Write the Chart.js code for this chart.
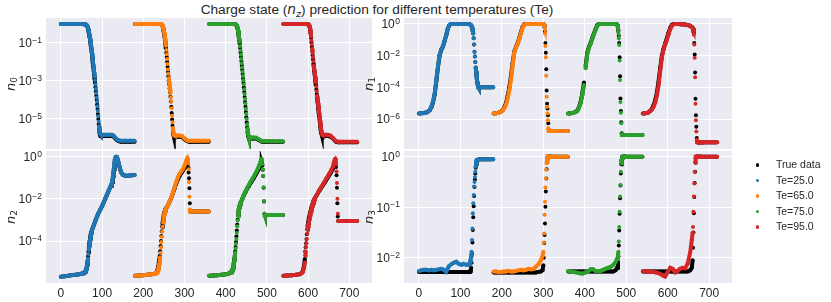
<!DOCTYPE html>
<html>
<head>
<meta charset="utf-8">
<script src="https://cdn.jsdelivr.net/npm/chart.js@4.4.1/dist/chart.umd.min.js"></script>
<style>
  body { margin: 0; background: #fff; }
  #fig { position: relative; width: 831px; height: 302px; overflow: hidden; font-family: "Liberation Sans", Arial, sans-serif; color: #262626; }
  canvas { position: absolute; }
  #c0 { left: 0; top: 0; }
  #c1 { left: 358px; top: 0; }
  #c2 { left: 0; top: 140px; }
  #c3 { left: 358px; top: 140px; }
  #title { position: absolute; left: 0; width: 754px; top: 3px; text-align: center; font-size: 13.7px; line-height: 1; white-space: nowrap; }
  .math { font-family: "DejaVu Sans"; font-style: italic; }
  .sub { font-family: "DejaVu Sans"; font-style: italic; font-size: 9.5px; position: relative; top: 2.5px; }
  #legend { position: absolute; left: 755px; top: 157px; font-size: 10.5px; line-height: 15.5px; white-space: nowrap; }
  .dot { display: inline-block; width: 3.5px; height: 3.5px; border-radius: 50%; margin-left: 0.5px; margin-right: 17px; vertical-align: middle; }
</style>
</head>
<body>
<div id="fig">
  <div id="title">Charge state (<span class="math">n</span><span class="sub">z</span>) prediction for different temperatures (Te)</div>
  <canvas id="c0" width="380" height="151"></canvas>
  <canvas id="c1" width="382" height="151"></canvas>
  <canvas id="c2" width="380" height="162"></canvas>
  <canvas id="c3" width="382" height="162"></canvas>
  <div id="legend"></div>
</div>
<script>
// series labels and colours
const temps = ['Te=25.0', 'Te=65.0', 'Te=75.0', 'Te=95.0'];
const colors = ['#1f77b4', '#ff7f0e', '#2ca02c', '#d62728'];
const trueLabel = 'True data';
// every temperature covers 180 samples, one after the other
const segStart = [0, 180, 360, 540];
const xTicks = [0, 100, 200, 300, 400, 500, 600, 700];

// all values are log10(n)

// ---- n0 ----
const n0Off = [0,10,20,30,40,50,56,58,60,
  62,63,64,65,66,67,68,69,70,71,72,73,74,75,76,77,78,79,80,81,82,83,84,85,86,87,88,89,90,91,92,93,94,95,96,97,98,
  102,108,114,120,124,128,132,136,140,146,156,168,179];
const n0Pred25 = [0,0,0,0,0,0,-0.01,-0.01,-0.02,
  -0.04,-0.06,-0.1,-0.15,-0.22,-0.3,-0.4,-0.5,-0.62,-0.74,
  -0.88,-1.03,-1.2,-1.38,-1.56,-1.75,-1.95,-2.15,-2.35,-2.55,
  -2.76,-2.98,-3.2,-3.42,-3.65,-3.88,-4.1,-4.35,-4.6,-4.88,
  -5.15,-5.4,-5.6,-5.74,-5.82,-5.85,-5.86,
  -5.86,-5.86,-5.86,-5.86,-5.86,-5.9,-6.0,-6.1,-6.15,-6.18,-6.18,-6.18,-6.18];
const n0True25 = [0,0,0,0,0,0,-0.01,-0.01,-0.02,
  -0.05,-0.07,-0.11,-0.17,-0.25,-0.34,-0.45,-0.57,-0.7,-0.84,
  -0.99,-1.15,-1.32,-1.5,-1.69,-1.89,-2.09,-2.3,-2.5,-2.7,
  -2.91,-3.12,-3.34,-3.56,-3.79,-4.02,-4.26,-4.5,-4.76,-5.03,
  -5.3,-5.54,-5.74,-5.85,-5.9,-5.92,-5.92,
  -5.92,-5.92,-5.92,-5.92,-5.92,-5.95,-6.05,-6.14,-6.19,-6.22,-6.22,-6.22,-6.22];
const n0Pred65 = [0,0,0,0,0,0,0,0,0,
  -0.01,-0.01,-0.02,-0.03,-0.05,-0.09,-0.15,-0.23,-0.33,-0.45,
  -0.6,-0.77,-0.95,-1.15,-1.37,-1.6,-1.85,-2.12,-2.4,-2.63,
  -2.85,-3.05,-3.25,-3.45,-3.65,-3.87,-4.1,-4.45,-4.85,-5.2,
  -5.5,-5.7,-5.82,-5.88,-5.9,-5.9,-5.9,
  -5.9,-5.9,-5.92,-6.05,-6.12,-6.17,-6.18,-6.18,-6.18,-6.18,-6.18,-6.18,-6.18];
const n0True65 = [0,0,0,0,0,0,0,0,0,
  -0.01,-0.02,-0.03,-0.04,-0.07,-0.12,-0.19,-0.28,-0.4,-0.54,
  -0.7,-0.88,-1.07,-1.28,-1.5,-1.75,-2.0,-2.26,-2.52,-2.76,
  -2.98,-3.18,-3.4,-3.62,-3.85,-4.1,-4.38,-4.7,-5.05,-5.38,
  -5.64,-5.82,-5.92,-5.95,-5.96,-5.96,-5.96,
  -5.96,-5.96,-5.98,-6.1,-6.16,-6.2,-6.22,-6.22,-6.22,-6.22,-6.22,-6.22,-6.22];
const n0Pred75 = [0,0,0,0,0,0,0,0,0,
  0,-0.01,-0.02,-0.03,-0.05,-0.08,-0.12,-0.2,-0.3,-0.44,
  -0.6,-0.77,-0.95,-1.17,-1.4,-1.62,-1.85,-2.08,-2.3,-2.52,
  -2.75,-2.97,-3.2,-3.45,-3.7,-3.95,-4.2,-4.48,-4.75,-5.02,
  -5.3,-5.52,-5.7,-5.85,-5.95,-5.99,-6.0,
  -6.0,-6.0,-6.01,-6.1,-6.15,-6.2,-6.2,-6.2,-6.2,-6.2,-6.2,-6.2,-6.2];
const n0True75 = [0,0,0,0,0,0,0,0,0,
  0,-0.01,-0.02,-0.04,-0.06,-0.1,-0.16,-0.25,-0.36,-0.5,
  -0.67,-0.85,-1.05,-1.27,-1.5,-1.73,-1.96,-2.19,-2.42,-2.65,
  -2.88,-3.11,-3.35,-3.6,-3.86,-4.12,-4.38,-4.65,-4.93,-5.2,
  -5.46,-5.68,-5.85,-5.95,-6.02,-6.05,-6.05,
  -6.05,-6.05,-6.06,-6.13,-6.18,-6.23,-6.23,-6.23,-6.23,-6.23,-6.23,-6.23,-6.23];
const n0Pred95 = [0,0,0,0,0,0,0,-0.01,-0.02,
  -0.04,-0.07,-0.13,-0.25,-0.45,-0.66,-0.88,-1.1,-1.32,-1.53,
  -1.75,-1.97,-2.19,-2.4,-2.58,-2.75,-2.92,-3.08,-3.3,-3.55,
  -3.8,-4.0,-4.17,-4.34,-4.52,-4.7,-4.9,-5.1,-5.3,-5.47,
  -5.62,-5.74,-5.83,-5.86,-5.86,-5.86,-5.86,
  -5.86,-5.86,-5.9,-6.02,-6.12,-6.19,-6.22,-6.22,-6.22,-6.22,-6.22,-6.22,-6.22];
const n0True95 = [0,0,0,0,0,0,0,-0.01,-0.02,
  -0.05,-0.09,-0.17,-0.31,-0.52,-0.74,-0.97,-1.2,-1.43,-1.65,
  -1.87,-2.09,-2.3,-2.5,-2.68,-2.86,-3.04,-3.24,-3.46,-3.7,
  -3.93,-4.13,-4.31,-4.5,-4.69,-4.88,-5.08,-5.28,-5.47,-5.63,
  -5.76,-5.85,-5.9,-5.92,-5.92,-5.92,-5.92,
  -5.92,-5.92,-5.95,-6.05,-6.15,-6.22,-6.25,-6.25,-6.25,-6.25,-6.25,-6.25,-6.25];

// ---- n1 ----
const n1Off = [0,6,12,18,22,26,30,34,38,42,46,50,54,58,62,66,70,74,78,84,92,100,108,114,118,
  120,121,122,123,124,125,126,127,128,129,130,131,132,133,134,135,136,137,138,139,140,141,142,143,144,145,146,
  150,160,170,179];
const n1Pred25 = [-5.65,-5.64,-5.62,-5.58,-5.52,-5.42,-5.22,-4.9,-4.4,-3.5,-2.65,-1.95,-1.62,-1.41,-1.05,-0.68,-0.25,-0.05,0,0,0,0,0,0,0,
  0,-0.01,-0.02,-0.03,-0.05,-0.07,-0.1,-0.15,-0.22,-0.3,
  -0.42,-0.6,-0.9,-1.3,-1.75,-2.05,-2.4,-2.75,-3.0,-3.2,
  -3.45,-3.7,-3.85,-3.95,-4.0,-4.0,-4.0,
  -4.0,-4.0,-4.0,-4.0];
const n1True25 = [-5.65,-5.64,-5.62,-5.58,-5.53,-5.44,-5.25,-4.95,-4.45,-3.6,-2.7,-1.98,-1.63,-1.42,-1.07,-0.7,-0.27,-0.06,0,0,0,0,0,0,0,
  0,-0.01,-0.02,-0.03,-0.05,-0.07,-0.1,-0.15,-0.22,-0.3,
  -0.42,-0.6,-0.9,-1.3,-1.75,-2.05,-2.4,-2.75,-3.0,-3.2,
  -3.45,-3.7,-3.85,-3.95,-4.0,-4.0,-4.0,
  -4.0,-4.0,-4.0,-4.0];
const n1Pred65 = [-5.65,-5.63,-5.6,-5.54,-5.45,-5.3,-5.1,-4.7,-4.2,-3.5,-2.6,-1.8,-1.5,-1.28,-0.95,-0.58,-0.25,-0.05,0,0,0,0,0,0,0,
  -0.01,-0.02,-0.05,-0.15,-0.6,-1.4,-2.1,-3.27,-4.6,-5.24,
  -5.65,-6.07,-6.58,-6.75,-6.75,-6.75,-6.75,-6.75,-6.75,-6.75,
  -6.75,-6.75,-6.75,-6.75,-6.75,-6.75,-6.75,
  -6.75,-6.75,-6.75,-6.75];
const n1True65 = [-5.65,-5.63,-5.6,-5.53,-5.43,-5.25,-5.0,-4.55,-4.0,-3.3,-2.45,-1.75,-1.45,-1.22,-0.9,-0.52,-0.2,-0.03,0,0,0,0,0,0,0,
  -0.01,-0.02,-0.05,-0.2,-0.48,-1.2,-1.82,-2.86,-4.2,-5.03,
  -5.34,-5.76,-6.27,-6.68,-6.75,-6.75,-6.75,-6.75,-6.75,-6.75,
  -6.75,-6.75,-6.75,-6.75,-6.75,-6.75,-6.75,
  -6.75,-6.75,-6.75,-6.75];
const n1Pred75 = [-5.65,-5.64,-5.61,-5.55,-5.48,-5.3,-4.98,-4.5,-3.85,-2.8,-1.9,-1.5,-1.25,-0.95,-0.65,-0.38,-0.12,-0.02,0,0,0,0,0,-0.01,-0.05,
  -0.25,-0.55,-0.9,-1.33,-2.3,-3.54,-4.93,-5.6,-6.27,-6.95,
  -7.0,-7.0,-7.0,-7.0,-7.0,-7.0,-7.0,-7.0,-7.0,-7.0,
  -7.0,-7.0,-7.0,-7.0,-7.0,-7.0,-7.0,
  -7.0,-7.0,-7.0,-7.0];
const n1True75 = [-5.65,-5.64,-5.61,-5.54,-5.46,-5.26,-4.92,-4.4,-3.7,-2.65,-1.82,-1.45,-1.2,-0.9,-0.6,-0.33,-0.09,-0.01,0,0,0,0,0,-0.01,-0.04,
  -0.2,-0.45,-0.75,-1.2,-2.1,-3.3,-4.7,-5.5,-6.2,-6.9,
  -7.0,-7.0,-7.0,-7.0,-7.0,-7.0,-7.0,-7.0,-7.0,-7.0,
  -7.0,-7.0,-7.0,-7.0,-7.0,-7.0,-7.0,
  -7.0,-7.0,-7.0,-7.0];
const n1Pred95 = [-5.65,-5.64,-5.6,-5.5,-5.4,-5.22,-4.95,-4.5,-3.85,-2.95,-2.1,-1.6,-1.3,-1.0,-0.65,-0.35,-0.12,-0.03,0,0,-0.02,-0.04,-0.07,-0.12,-0.2,
  -0.26,-0.3,-0.37,-0.68,-1.3,-2.13,-3.37,-5.03,-6.07,-6.79,
  -7.31,-7.47,-7.47,-7.47,-7.47,-7.47,-7.47,-7.47,-7.47,-7.47,
  -7.47,-7.47,-7.47,-7.47,-7.47,-7.47,-7.47,
  -7.47,-7.47,-7.47,-7.47];
const n1True95 = [-5.65,-5.64,-5.6,-5.48,-5.35,-5.12,-4.8,-4.3,-3.6,-2.75,-2.0,-1.55,-1.22,-0.9,-0.55,-0.25,-0.06,0,0,0,-0.02,-0.04,-0.07,-0.12,-0.2,
  -0.25,-0.28,-0.33,-0.58,-1.2,-1.93,-3.06,-4.72,-5.76,-6.48,
  -7.2,-7.47,-7.47,-7.47,-7.47,-7.47,-7.47,-7.47,-7.47,-7.47,
  -7.47,-7.47,-7.47,-7.47,-7.47,-7.47,-7.47,
  -7.47,-7.47,-7.47,-7.47];

// ---- n2 ----
const n2Off = [0,10,20,30,40,46,50,
  52,53,54,55,56,57,58,59,60,61,62,63,64,65,66,67,68,69,70,71,72,73,74,75,76,
  80,84,88,92,96,100,104,108,112,116,120,122,
  124,125,126,127,128,129,130,131,132,133,134,135,136,
  138,142,146,150,156,164,172,179];
const n2Pred25 = [-5.69,-5.67,-5.64,-5.61,-5.59,-5.57,-5.55,
  -5.54,-5.53,-5.52,-5.51,-5.5,-5.48,-5.47,-5.45,-5.42,-5.38,
  -5.32,-5.24,-5.15,-5.0,-4.82,-4.62,-4.42,-4.24,-4.08,-3.93,
  -3.8,-3.7,-3.62,-3.54,-3.47,
  -3.25,-3.03,-2.82,-2.65,-2.5,-2.35,-2.17,-1.98,-1.8,-1.6,-1.42,-1.33,
  -1.22,-1.1,-0.95,-0.8,-0.62,-0.45,-0.3,-0.15,-0.07,-0.03,-0.01,0,-0.02,
  -0.12,-0.45,-0.73,-0.85,-0.9,-0.9,-0.88,-0.87];
const n2True25 = [-5.69,-5.67,-5.64,-5.61,-5.59,-5.57,-5.55,
  -5.54,-5.53,-5.52,-5.51,-5.5,-5.48,-5.47,-5.45,-5.42,-5.38,
  -5.31,-5.22,-5.1,-4.92,-4.72,-4.52,-4.33,-4.16,-4.01,-3.88,
  -3.76,-3.66,-3.58,-3.51,-3.45,
  -3.25,-3.03,-2.82,-2.65,-2.5,-2.35,-2.17,-1.98,-1.8,-1.62,-1.45,-1.37,
  -1.28,-1.2,-1.08,-0.93,-0.76,-0.58,-0.4,-0.24,-0.12,-0.05,-0.02,0,-0.02,
  -0.12,-0.45,-0.73,-0.85,-0.9,-0.9,-0.88,-0.87];
const n2Pred65 = [-5.65,-5.63,-5.62,-5.6,-5.58,-5.56,-5.54,
  -5.52,-5.5,-5.45,-5.4,-5.35,-5.27,-5.18,-5.08,-4.95,-4.77,
  -4.55,-4.3,-4.05,-3.8,-3.55,-3.32,-3.12,-2.97,-2.85,-2.74,
  -2.65,-2.58,-2.52,-2.48,-2.45,
  -2.3,-2.12,-1.93,-1.7,-1.45,-1.2,-0.98,-0.82,-0.7,-0.6,-0.43,-0.33,
  -0.22,-0.16,-0.1,-0.06,-0.1,-0.3,-0.6,-1.2,-1.9,-2.5,-2.6,-2.6,-2.6,
  -2.6,-2.6,-2.6,-2.6,-2.6,-2.6,-2.6,-2.6];
const n2True65 = [-5.65,-5.63,-5.62,-5.6,-5.58,-5.56,-5.54,
  -5.5,-5.46,-5.4,-5.33,-5.25,-5.15,-5.03,-4.88,-4.7,-4.48,
  -4.24,-4.0,-3.76,-3.53,-3.32,-3.13,-2.98,-2.86,-2.76,-2.67,
  -2.6,-2.54,-2.5,-2.46,-2.43,
  -2.3,-2.13,-1.95,-1.73,-1.5,-1.27,-1.07,-0.92,-0.78,-0.67,-0.55,-0.48,
  -0.4,-0.35,-0.3,-0.28,-0.32,-0.5,-0.75,-1.02,-1.5,-2.21,-2.6,-2.6,-2.6,
  -2.6,-2.6,-2.6,-2.6,-2.6,-2.6,-2.6,-2.6];
const n2Pred75 = [-5.65,-5.63,-5.62,-5.6,-5.58,-5.55,-5.52,
  -5.5,-5.48,-5.45,-5.42,-5.38,-5.32,-5.25,-5.16,-5.05,-4.92,
  -4.75,-4.56,-4.35,-4.13,-3.9,-3.62,-3.3,-3.02,-2.8,-2.63,
  -2.5,-2.39,-2.3,-2.23,-2.18,
  -2.0,-1.8,-1.65,-1.48,-1.35,-1.2,-1.07,-0.95,-0.8,-0.65,-0.48,-0.39,
  -0.28,-0.2,-0.15,-0.1,-0.15,-0.35,-0.6,-0.9,-1.45,-2.1,-2.7,-2.76,-2.76,
  -2.76,-2.76,-2.76,-2.76,-2.76,-2.76,-2.76,-2.76];
const n2True75 = [-5.65,-5.63,-5.62,-5.6,-5.58,-5.55,-5.52,
  -5.5,-5.48,-5.45,-5.42,-5.38,-5.32,-5.25,-5.16,-5.05,-4.88,
  -4.7,-4.5,-4.28,-4.04,-3.78,-3.5,-3.22,-2.98,-2.78,-2.62,
  -2.5,-2.4,-2.32,-2.25,-2.2,
  -2.02,-1.83,-1.68,-1.52,-1.4,-1.26,-1.14,-1.02,-0.88,-0.74,-0.6,-0.54,
  -0.46,-0.42,-0.38,-0.35,-0.3,-0.4,-0.62,-0.92,-1.47,-2.12,-2.7,-2.76,-2.76,
  -2.76,-2.76,-2.76,-2.76,-2.76,-2.76,-2.76,-2.76];
const n2Pred95 = [-5.65,-5.64,-5.62,-5.6,-5.57,-5.5,-5.3,
  -5.02,-4.68,-4.5,-4.3,-4.1,-3.9,-3.65,-3.45,-3.3,-3.17,
  -3.05,-2.95,-2.85,-2.75,-2.65,-2.56,-2.48,-2.4,-2.33,-2.26,
  -2.2,-2.14,-2.08,-2.03,-1.98,
  -1.84,-1.7,-1.56,-1.43,-1.31,-1.18,-1.04,-0.92,-0.78,-0.64,-0.48,-0.32,
  -0.18,-0.12,-0.1,-0.14,-0.35,-0.7,-1.25,-2.0,-2.7,-3.05,-3.05,-3.05,-3.05,
  -3.05,-3.05,-3.05,-3.05,-3.05,-3.05,-3.05,-3.05];
const n2True95 = [-5.65,-5.64,-5.62,-5.6,-5.57,-5.48,-5.2,
  -4.85,-4.5,-4.3,-4.1,-3.9,-3.68,-3.45,-3.28,-3.14,-3.03,
  -2.93,-2.84,-2.75,-2.66,-2.58,-2.5,-2.43,-2.36,-2.3,-2.24,
  -2.18,-2.12,-2.07,-2.02,-1.98,
  -1.85,-1.72,-1.59,-1.47,-1.35,-1.23,-1.1,-0.98,-0.85,-0.72,-0.58,-0.48,
  -0.38,-0.33,-0.3,-0.32,-0.49,-0.88,-1.47,-2.21,-2.84,-3.05,-3.05,-3.05,-3.05,
  -3.05,-3.05,-3.05,-3.05,-3.05,-3.05,-3.05,-3.05];

// ---- n3 ----
const n3Off = [0,6,12,18,24,30,36,42,48,54,60,66,72,78,84,90,96,102,108,114,118,120,
  121,122,123,124,125,126,127,128,129,130,131,132,133,134,135,136,137,138,139,140,
  144,150,160,170,179];
const n3Pred25 = [-2.26,-2.25,-2.24,-2.24,-2.25,-2.24,-2.25,-2.24,-2.23,-2.22,-2.24,-2.28,-2.17,-2.13,-2.1,-2.08,-2.12,-2.14,-2.12,-2.14,-2.14,-2.14,
  -2.13,-2.12,-2.1,-2.06,-2.02,-1.96,-1.88,-1.65,-1.42,-1.12,
  -0.92,-0.76,-0.59,-0.5,-0.4,-0.3,-0.2,-0.13,-0.09,-0.07,
  -0.055,-0.052,-0.052,-0.052,-0.052];
const n3True25 = [-2.28,-2.28,-2.28,-2.28,-2.28,-2.28,-2.28,-2.28,-2.28,-2.28,-2.28,-2.28,-2.28,-2.28,-2.28,-2.28,-2.28,-2.28,-2.28,-2.28,-2.28,-2.28,
  -2.28,-2.28,-2.27,-2.26,-2.24,-2.2,-2.1,-1.92,-1.7,-1.45,
  -1.2,-0.98,-0.78,-0.6,-0.45,-0.33,-0.22,-0.14,-0.09,-0.07,
  -0.055,-0.052,-0.052,-0.052,-0.052];
const n3Pred65 = [-2.27,-2.27,-2.28,-2.28,-2.27,-2.27,-2.26,-2.27,-2.27,-2.26,-2.25,-2.24,-2.25,-2.24,-2.22,-2.23,-2.22,-2.18,-2.13,-2.05,-1.97,-1.88,
  -1.7,-1.52,-1.15,-0.89,-0.61,-0.43,-0.26,-0.13,-0.06,-0.02,
  0,0,0,0,0,0,0,0,0,0,
  0,0,0,0,0];
const n3True65 = [-2.29,-2.29,-2.29,-2.29,-2.29,-2.29,-2.29,-2.29,-2.29,-2.29,-2.29,-2.29,-2.29,-2.29,-2.29,-2.29,-2.29,-2.29,-2.28,-2.27,-2.25,-2.15,
  -2.0,-1.71,-1.55,-1.32,-0.99,-0.69,-0.43,-0.25,-0.11,-0.02,
  0,0,0,0,0,0,0,0,0,0,
  0,0,0,0,0];
const n3Pred75 = [-2.26,-2.27,-2.28,-2.29,-2.3,-2.31,-2.31,-2.29,-2.27,-2.23,-2.23,-2.26,-2.26,-2.26,-2.24,-2.22,-2.2,-2.18,-2.15,-2.09,-2.02,-1.95,
  -1.88,-1.68,-1.39,-1.09,-0.79,-0.56,-0.3,-0.13,-0.06,-0.03,
  0,0,0,0,0,0,0,0,0,0,
  0,0,0,0,0];
const n3True75 = [-2.27,-2.27,-2.27,-2.27,-2.27,-2.27,-2.27,-2.27,-2.27,-2.27,-2.27,-2.27,-2.27,-2.27,-2.27,-2.27,-2.27,-2.27,-2.27,-2.25,-2.2,-2.08,
  -1.97,-1.76,-1.46,-1.13,-0.82,-0.57,-0.33,-0.15,-0.07,-0.02,
  0,0,0,0,0,0,0,0,0,0,
  0,0,0,0,0];
const n3Pred95 = [-2.26,-2.27,-2.27,-2.27,-2.28,-2.29,-2.3,-2.32,-2.35,-2.37,-2.28,-2.2,-2.22,-2.29,-2.26,-2.22,-2.2,-2.21,-2.12,-1.9,-1.65,-1.5,
  -1.39,-1.09,-0.79,-0.53,-0.3,-0.11,-0.03,0,0,0,
  0,0,0,0,0,0,0,0,0,0,
  0,0,0,0,0];
const n3True95 = [-2.27,-2.27,-2.27,-2.27,-2.27,-2.27,-2.27,-2.27,-2.27,-2.27,-2.27,-2.27,-2.27,-2.27,-2.27,-2.27,-2.27,-2.27,-2.27,-2.25,-2.2,-2.05,
  -1.8,-1.5,-1.12,-0.8,-0.52,-0.3,-0.12,-0.02,0,0,
  0,0,0,0,0,0,0,0,0,0,
  0,0,0,0,0];

const FONT = '"Liberation Sans", Arial, sans-serif';
const TEXT = '#262626';

// steep steps show as separate dots, flat parts as a thick run of dots
function hideSteep(ctx) {
  const dx = Math.abs(ctx.p1.x - ctx.p0.x);
  const dy = Math.abs(ctx.p1.y - ctx.p0.y);
  return dy > 10 * dx ? 'rgba(0,0,0,0)' : undefined;
}

function series(off, vals, i, color) {
  return {
    data: off.map((o, k) => ({ x: segStart[i] + o, y: Math.pow(10, vals[k]) })),
    borderColor: color,
    backgroundColor: color,
    borderWidth: 4,
    pointRadius: 2,
    pointBorderWidth: 0,
    pointHoverRadius: 0,
    pointHitRadius: 0,
    tension: 0,
    segment: { borderColor: hideSteep }
  };
}

// grey panel, "10^k" tick labels and the rotated n_k axis label
const panelPlugin = {
  id: 'panel',
  beforeDraw(chart) {
    const a = chart.chartArea, ctx = chart.ctx;
    ctx.save();
    ctx.fillStyle = '#eaeaf2';
    ctx.fillRect(a.left, a.top, a.right - a.left, a.bottom - a.top);
    ctx.restore();
  },
  afterDraw(chart, args, opts) {
    const ctx = chart.ctx, a = chart.chartArea, ys = chart.scales.y;
    ctx.save();
    ctx.fillStyle = TEXT;
    ctx.textBaseline = 'alphabetic';
    ys.ticks.forEach(t => {
      const py = ys.getPixelForValue(t.value);
      const e = Math.round(Math.log10(t.value));
      const sup = e < 0 ? '\u2212' + (-e) : String(e);
      const right = a.left - 4;
      ctx.font = '8.5px ' + FONT;
      const ws = ctx.measureText(sup).width;
      ctx.textAlign = 'left';
      ctx.fillText(sup, right - ws, py);
      ctx.font = '12px ' + FONT;
      ctx.textAlign = 'right';
      ctx.fillText('10', right - ws - 0.5, py + 4.3);
    });
    ctx.translate(opts.lx, opts.ly);
    ctx.rotate(-Math.PI / 2);
    ctx.font = 'italic 13px "DejaVu Sans"';
    const wn = ctx.measureText('n').width;
    ctx.font = '9px "DejaVu Sans"';
    const wsub = ctx.measureText(opts.sub).width;
    const x0 = -(wn + wsub) / 2;
    ctx.textAlign = 'left';
    ctx.font = 'italic 13px "DejaVu Sans"';
    ctx.fillText('n', x0, 0);
    ctx.font = '9px "DejaVu Sans"';
    ctx.fillText(opts.sub, x0 + wn, 2);
    ctx.restore();
  }
};

const panels = [
  { id: 'c0', sub: '0', lx: 15, ly: 84, off: n0Off, bottom: false, padTop: 18,
    pred: [n0Pred25, n0Pred65, n0Pred75, n0Pred95], truth: [n0True25, n0True65, n0True75, n0True95],
    yTicks: [-1, -3, -5], yMin: -6.61, yMax: 0.318 },
  { id: 'c1', sub: '1', lx: 14.5, ly: 84, off: n1Off, bottom: false, padTop: 18,
    pred: [n1Pred25, n1Pred65, n1Pred75, n1Pred95], truth: [n1True25, n1True65, n1True75, n1True95],
    yTicks: [0, -2, -4, -6], yMin: -7.89, yMax: 0.373 },
  { id: 'c2', sub: '2', lx: 15, ly: 77, off: n2Off, bottom: true, padTop: 11,
    pred: [n2Pred25, n2Pred65, n2Pred75, n2Pred95], truth: [n2True25, n2True65, n2True75, n2True95],
    yTicks: [0, -2, -4], yMin: -5.99, yMax: 0.27 },
  { id: 'c3', sub: '3', lx: 14.5, ly: 77, off: n3Off, bottom: true, padTop: 11,
    pred: [n3Pred25, n3Pred65, n3Pred75, n3Pred95], truth: [n3True25, n3True65, n3True75, n3True95],
    yTicks: [0, -1, -2], yMin: -2.50, yMax: 0.113 }
];

function makeChart(p) {
  const datasets = [];
  // predictions first so they are drawn over the true data
  p.pred.forEach((vals, i) => datasets.push(series(p.off, vals, i, colors[i])));
  p.truth.forEach((vals, i) => datasets.push(series(p.off, vals, i, '#000000')));
  return new Chart(document.getElementById(p.id), {
    type: 'line',
    data: { datasets },
    options: {
      responsive: false,
      animation: false,
      devicePixelRatio: 1,
      events: [],
      layout: { padding: { top: p.padTop, right: 8, left: 0, bottom: 0 } },
      plugins: {
        legend: { display: false },
        tooltip: { enabled: false },
        panel: { sub: p.sub, lx: p.lx, ly: p.ly }
      },
      scales: {
        x: {
          type: 'linear', min: -36, max: 755,
          border: { display: false },
          grid: { color: '#ffffff', lineWidth: 1, drawTicks: false },
          ticks: { display: p.bottom, padding: 3, color: TEXT, font: { family: FONT, size: 12 } },
          afterBuildTicks: s => { s.ticks = xTicks.map(v => ({ value: v })); },
          afterFit: s => { s.height = p.bottom ? 19 : 0; }
        },
        y: {
          type: 'logarithmic', min: Math.pow(10, p.yMin), max: Math.pow(10, p.yMax),
          border: { display: false },
          grid: { color: '#ffffff', lineWidth: 1, drawTicks: false },
          ticks: { display: false },
          afterBuildTicks: s => { s.ticks = p.yTicks.map(e => ({ value: Math.pow(10, e) })); },
          afterFit: s => { s.width = 46; }
        }
      }
    },
    plugins: [panelPlugin]
  });
}

panels.forEach(makeChart);

// legend
const legend = document.getElementById('legend');
[[trueLabel, '#000000']].concat(temps.map((t, i) => [t, colors[i]])).forEach(([label, color]) => {
  const row = document.createElement('div');
  const dot = document.createElement('span');
  dot.className = 'dot';
  dot.style.background = color;
  row.appendChild(dot);
  row.appendChild(document.createTextNode(label));
  legend.appendChild(row);
});
</script>
</body>
</html>
